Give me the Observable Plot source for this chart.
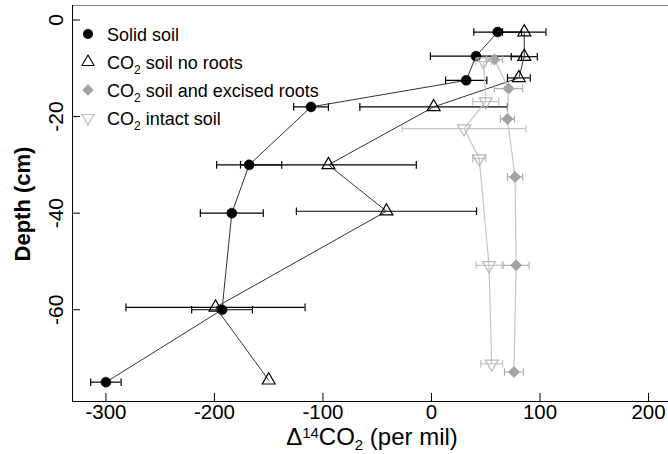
<!DOCTYPE html>
<html><head><meta charset="utf-8">
<script src="https://cdn.jsdelivr.net/npm/d3@7"></script>
<script src="https://cdn.jsdelivr.net/npm/@observablehq/plot@0.6"></script>
<style>
html,body{margin:0;padding:0;background:#fff;}
#chart svg{font-family:"Liberation Sans",Arial,Helvetica,sans-serif;display:block;}
</style></head><body><div id="chart"></div>
<script>
// Δ14CO2 (per mil) values, depths (cm) and ± error (per mil) for each series
const solidValue   = [61, 41, 32, -111, -168, -184, -193, -300];
const solidDepth   = [-2.5, -7.5, -12.5, -18, -30, -40, -60, -75];
const solidErr     = [22, 42, 19, 16, 30, 29, 28, 14];

const noRootsValue = [85.5, 85.5, 80.5, 2, -95, -41.5, -199, -150];
const noRootsDepth = [-2.5, -7.6, -12, -18, -30, -39.6, -59.5, -74.6];
const noRootsErr   = [20, 12, 10.5, 68, 81, 83, 82.5, 0];

const excisedValue = [58, 71, 70, 77, 78, 76];
const excisedDepth = [-8.2, -14.2, -20.5, -32.5, -50.8, -72.9];
const excisedErr   = [7.5, 13, 6.5, 7, 12, 8.7];

const intactValue  = [48, 50, 30, 44, 53, 55.5];
const intactDepth  = [-8.6, -16.9, -22.5, -28.7, -50.8, -71.2];
const intactErr    = [7, 12, 57, 6, 11.8, 10];

const xTicks = [-300, -200, -100, 0, 100, 200];
const yTicks = [0, -20, -40, -60];
const seriesNames = ["Solid soil", "CO2 soil no roots", "CO2 soil and excised roots", "CO2 intact soil"];

const mk = (name, v, d, e) => v.map((value, i) => ({series: name, value, depth: d[i], err: e[i], lo: value - e[i], hi: value + e[i]}));
const solid = mk(seriesNames[0], solidValue, solidDepth, solidErr);
const noRoots = mk(seriesNames[1], noRootsValue, noRootsDepth, noRootsErr);
const excised = mk(seriesNames[2], excisedValue, excisedDepth, excisedErr);
const intact = mk(seriesNames[3], intactValue, intactDepth, intactErr);

const cap = {draw(ctx, size) { const r = Math.sqrt(size / Math.PI); ctx.moveTo(0, -r); ctx.lineTo(0, r); }};
function errorBars(data, color, w) {
  const d = data.filter(r => r.err > 0);
  return [
    Plot.ruleY(d, {y: "depth", x1: "lo", x2: "hi", stroke: color, strokeWidth: w}),
    Plot.dot(d, {x: "lo", y: "depth", symbol: cap, r: 3.8, stroke: color, fill: "none", strokeWidth: w}),
    Plot.dot(d, {x: "hi", y: "depth", symbol: cap, r: 3.8, stroke: color, fill: "none", strokeWidth: w})
  ];
}
const fmt = d => String(d);

const plot = Plot.plot({
  width: 668, height: 454,
  marginLeft: 72, marginRight: 0, marginTop: 5, marginBottom: 53,
  style: {background: "white", overflow: "visible", fontFamily: "'Liberation Sans', Arial, sans-serif"},
  x: {domain: [-330.8, 218.4], axis: null},
  y: {domain: [-79, 3], axis: null},
  marks: [
    Plot.frame({anchor: "top", stroke: "#888"}),
    Plot.frame({anchor: "left", stroke: "#000"}),
    Plot.frame({anchor: "bottom", stroke: "#000"}),
    Plot.tickX(xTicks, {x: d => d, insetTop: 388, stroke: "#000"}),
    Plot.tickY(yTicks, {y: d => d, insetRight: 588, stroke: "#000"}),
    Plot.axisX({ticks: xTicks, tickSize: 0, tickPadding: 3, fontSize: 20.5, label: null, tickFormat: fmt}),
    Plot.axisY({ticks: yTicks, tickSize: 0, tickPadding: 10, tickRotate: -90, fontSize: 21, label: null, tickFormat: fmt}),

    // Solid soil
    ...errorBars(solid, "#000", 1.2),
    Plot.line(solid, {x: "value", y: "depth", stroke: "#333", strokeWidth: 1}),
    Plot.dot(solid, {x: "value", y: "depth", r: 5, fill: "#000", stroke: "#000", strokeWidth: 0.5}),
    // CO2 soil no roots
    ...errorBars(noRoots, "#000", 1.2),
    Plot.line(noRoots, {x: "value", y: "depth", stroke: "#333", strokeWidth: 1}),
    Plot.dot(noRoots, {x: "value", y: "depth", symbol: "triangle", r: 4.8, fill: "none", stroke: "#000", strokeWidth: 1.2}),
    // CO2 soil and excised roots
    ...errorBars(excised, "#b0b0b0", 1.2),
    Plot.line(excised, {x: "value", y: "depth", stroke: "#c6c6c6", strokeWidth: 1.2}),
    Plot.dot(excised, {x: "value", y: "depth", symbol: "square", rotate: 45, r: 4.8, fill: "#a3a3a3", stroke: "none"}),
    // CO2 intact soil
    ...errorBars(intact, "#c4c4c4", 1.2),
    Plot.line(intact, {x: "value", y: "depth", stroke: "#c6c6c6", strokeWidth: 1.2}),
    Plot.dot(intact, {x: "value", y: "depth", symbol: "triangle", rotate: 180, r: 4.8, fill: "none", stroke: "#b8b8b8", strokeWidth: 1.2})
  ]
});
document.getElementById("chart").appendChild(plot);

// Axis titles and legend
const svg = d3.select(plot);
const xt = svg.append("text").attr("x", 372).attr("y", 445).attr("text-anchor", "middle")
  .attr("font-size", 24).attr("fill", "#000");
xt.append("tspan").text("Δ");
xt.append("tspan").attr("font-size", 15).attr("dy", -7).text("14");
xt.append("tspan").attr("dy", 7).text("CO");
xt.append("tspan").attr("font-size", 15).attr("dy", 5).text("2");
xt.append("tspan").attr("dy", -5).text(" (per mil)");

svg.append("text").attr("transform", "translate(30,204) rotate(-90)").attr("text-anchor", "middle")
  .attr("font-size", 22).attr("font-weight", "bold").attr("fill", "#000").text("Depth (cm)");

const legend = [
  {name: seriesNames[0], sym: d3.symbolCircle, r: 5, fill: "#000", stroke: "none", rot: 0},
  {name: seriesNames[1], sym: d3.symbolTriangle, r: 4.5, fill: "none", stroke: "#000", rot: 0},
  {name: seriesNames[2], sym: d3.symbolSquare, r: 4.6, fill: "#a3a3a3", stroke: "none", rot: 45},
  {name: seriesNames[3], sym: d3.symbolTriangle, r: 4.5, fill: "none", stroke: "#b8b8b8", rot: 180}
];
const lg = svg.append("g").attr("text-anchor", "start");
legend.forEach((d, i) => {
  const base = 41 + i * 28;
  lg.append("path").attr("d", d3.symbol(d.sym, Math.PI * d.r * d.r)())
    .attr("transform", `translate(88,${base - 7}) rotate(${d.rot})`)
    .attr("fill", d.fill).attr("stroke", d.stroke).attr("stroke-width", 1.1);
  const t = lg.append("text").attr("x", 107).attr("y", base).attr("font-size", 18)
    .attr("fill", "#000").attr("text-anchor", "start");
  if (d.name.startsWith("CO2")) {
    t.append("tspan").text("CO");
    t.append("tspan").attr("font-size", 12).attr("dy", 5).text("2");
    t.append("tspan").attr("dy", -5).text(d.name.slice(3));
  } else {
    t.text(d.name);
  }
});
</script></body></html>
